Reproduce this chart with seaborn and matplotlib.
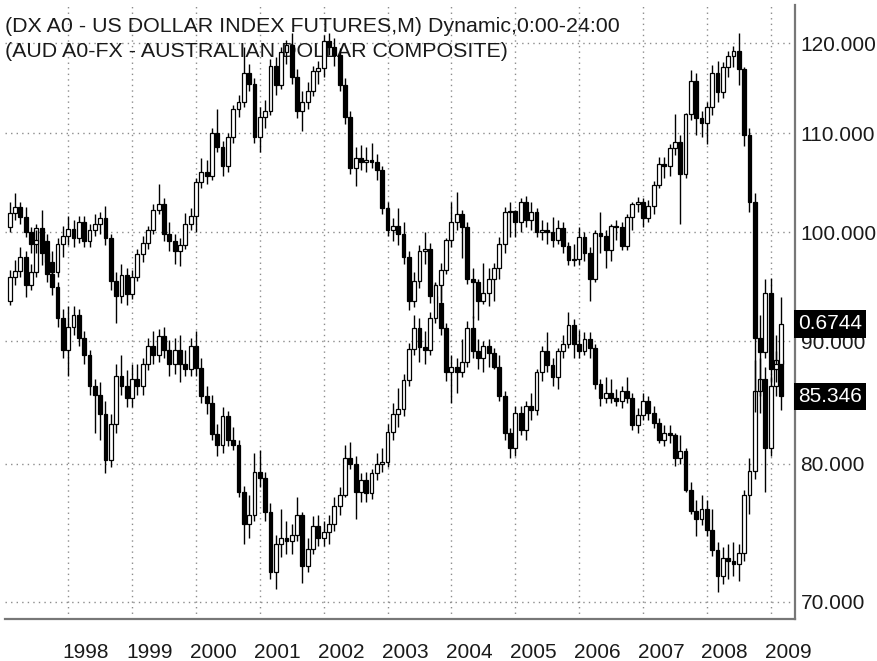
import matplotlib
matplotlib.use("Agg")
import matplotlib.pyplot as plt
import matplotlib.transforms as mtransforms
from matplotlib.ticker import FixedLocator, FixedFormatter, FormatStrFormatter, NullLocator, NullFormatter
import numpy as np
import pandas as pd
import seaborn as sns

# monthly bars, Feb 1997 .. Mar 2009
start_month = "1997-02-01"

# US Dollar Index futures (DX A0)
dx_open = [
    93.6, 95.8, 96.3, 97.6, 95.0, 96.2, 100.4, 99.2, 97.2, 96.2, 98.9,
    99.6, 100.3, 99.4, 101.0, 99.2, 100.2, 100.8, 101.4, 99.4, 95.4, 94.0, 96.0,
    94.2, 95.8, 97.9, 99.0, 100.2, 102.2, 102.8, 99.8, 99.2, 98.2, 98.8, 100.8,
    101.6, 105.0, 106.0, 105.6, 110.0, 108.6, 106.6, 109.6, 112.6, 113.4, 116.6, 115.4,
    109.6, 111.8, 112.4, 117.4, 115.2, 119.0, 119.8, 116.2, 112.4, 113.4, 114.6, 116.8,
    117.2, 120.2, 119.6, 118.6, 115.2, 111.8, 106.4, 107.4, 107.0, 107.2, 107.0, 106.2,
    102.4, 100.2, 100.6, 99.8, 97.6, 93.6, 95.4, 98.2, 98.4, 94.0, 93.4, 91.2,
    87.4, 87.8, 87.4, 88.2, 91.2, 89.2, 88.6, 89.6, 89.0, 87.8, 85.4, 82.4,
    81.2, 84.0, 82.6, 84.6, 84.2, 87.4, 89.2, 88.0, 87.0, 89.2, 89.8, 91.4,
    89.8, 89.2, 90.2, 89.4, 86.4, 85.2, 85.6, 85.2, 85.0, 85.8, 85.2, 83.0,
    83.8, 85.0, 84.0, 83.2, 81.8, 82.4, 82.2, 80.4, 81.0, 78.0, 76.4, 75.8,
    76.6, 75.0, 73.6, 71.8, 73.0, 72.8, 72.6, 73.4, 77.6, 79.4, 85.8, 86.8,
    81.2, 86.2, 88.4,
]
dx_high = [
    96.4, 97.4, 98.6, 98.2, 97.0, 100.8, 102.2, 99.8, 98.2, 99.4, 100.6,
    101.6, 101.2, 101.6, 101.6, 100.8, 101.8, 102.0, 102.6, 99.8, 96.2, 97.0, 96.6,
    96.4, 98.4, 99.6, 100.6, 102.8, 104.8, 103.4, 101.0, 99.8, 99.4, 101.9, 102.4,
    105.4, 107.4, 107.2, 110.6, 112.6, 109.2, 110.0, 113.0, 114.2, 119.6, 117.6, 116.0,
    112.8, 113.6, 118.2, 118.4, 119.6, 120.4, 121.2, 117.0, 114.6, 115.6, 117.4, 118.0,
    121.0, 121.2, 120.6, 119.4, 116.0, 112.4, 108.6, 108.8, 108.6, 109.0, 107.8, 106.6,
    103.0, 101.4, 102.4, 101.0, 98.2, 96.2, 98.8, 100.0, 99.0, 95.2, 95.0, 91.6,
    88.8, 88.6, 90.2, 91.8, 92.2, 90.2, 90.0, 90.2, 89.4, 88.8, 85.8, 82.8,
    84.6, 84.6, 85.0, 85.6, 87.6, 89.6, 90.8, 88.6, 89.4, 90.6, 92.6, 92.0,
    91.0, 90.8, 90.8, 89.8, 86.8, 87.0, 86.8, 86.0, 86.2, 87.0, 85.6, 84.4,
    85.6, 85.4, 84.6, 83.6, 83.0, 83.0, 82.4, 82.2, 81.2, 78.6, 77.2, 77.6,
    77.2, 76.6, 74.2, 73.8, 74.0, 74.2, 74.0, 78.0, 80.4, 88.4, 88.6, 87.8,
    87.0, 89.2, 89.6,
]
dx_low = [
    93.2, 95.0, 95.8, 93.9, 94.6, 95.8, 98.8, 96.4, 95.2, 95.8, 97.6,
    98.8, 98.6, 99.0, 98.6, 98.6, 99.6, 99.8, 98.8, 94.6, 91.6, 93.4, 93.2,
    93.8, 95.4, 97.2, 98.4, 99.8, 101.8, 99.2, 98.2, 97.0, 96.8, 98.4, 100.2,
    100.0, 104.4, 104.8, 105.2, 108.0, 105.6, 106.0, 109.0, 111.8, 112.8, 114.6, 109.0,
    108.0, 110.6, 112.0, 114.2, 114.8, 117.6, 115.4, 111.6, 110.2, 112.6, 114.0, 115.4,
    116.2, 118.6, 117.4, 114.6, 111.0, 105.8, 104.6, 106.2, 106.0, 106.4, 105.2, 101.8,
    99.6, 99.2, 98.8, 97.0, 92.8, 93.0, 94.8, 97.0, 93.4, 92.8, 90.6, 86.6,
    84.8, 85.6, 87.0, 87.8, 88.6, 87.6, 87.4, 87.8, 87.6, 85.0, 81.8, 80.4,
    80.6, 82.2, 81.8, 83.4, 83.8, 86.6, 87.4, 86.2, 86.0, 88.6, 89.4, 88.6,
    88.6, 88.8, 88.6, 86.0, 84.6, 84.8, 84.8, 84.6, 84.4, 84.8, 82.6, 82.4,
    83.4, 83.4, 82.8, 81.6, 81.4, 81.6, 79.8, 80.0, 77.8, 76.2, 74.6, 75.4,
    74.6, 73.2, 70.7, 71.2, 71.6, 71.8, 71.4, 72.8, 76.2, 78.8, 84.0, 77.8,
    80.6, 85.4, 84.2,
]
dx_close = [
    95.8, 96.3, 97.6, 95.0, 96.2, 100.4, 99.2, 97.2, 96.2, 98.9, 99.6,
    100.3, 99.4, 101.0, 99.2, 100.2, 100.8, 101.4, 99.4, 95.4, 94.0, 96.0, 94.2,
    95.8, 97.9, 99.0, 100.2, 102.2, 102.8, 99.8, 99.2, 98.2, 98.8, 100.8, 101.6,
    105.0, 106.0, 105.6, 110.0, 108.6, 106.6, 109.6, 112.6, 113.4, 116.6, 115.4, 109.6,
    111.8, 112.4, 117.4, 115.2, 119.0, 119.8, 116.2, 112.4, 113.4, 114.6, 116.8, 117.2,
    120.2, 119.6, 118.6, 115.2, 111.8, 106.4, 107.4, 107.0, 107.2, 107.0, 106.2, 102.4,
    100.2, 100.6, 99.8, 97.6, 93.6, 95.4, 98.2, 98.4, 94.0, 93.4, 91.2, 87.4,
    87.8, 87.4, 88.2, 91.2, 89.2, 88.6, 89.6, 89.0, 87.8, 85.4, 82.4, 81.2,
    84.0, 82.6, 84.6, 84.2, 87.4, 89.2, 88.0, 87.0, 89.2, 89.8, 91.4, 89.8,
    89.2, 90.2, 89.4, 86.4, 85.2, 85.6, 85.2, 85.0, 85.8, 85.2, 83.0, 83.8,
    85.0, 84.0, 83.2, 81.8, 82.4, 82.2, 80.4, 81.0, 78.0, 76.4, 75.8, 76.6,
    75.0, 73.6, 71.8, 73.0, 72.8, 72.6, 73.4, 77.6, 79.4, 85.8, 86.8, 81.2,
    86.2, 88.4, 85.346,
]

# Australian dollar composite (AUD A0-FX)
aud_open = [
    0.765, 0.779, 0.785, 0.775, 0.760, 0.748, 0.752, 0.740, 0.720, 0.708, 0.680,
    0.652, 0.672, 0.682, 0.662, 0.648, 0.622, 0.615, 0.600, 0.565, 0.592, 0.630, 0.622,
    0.612, 0.628, 0.622, 0.640, 0.655, 0.648, 0.664, 0.652, 0.640, 0.652, 0.640, 0.636,
    0.655, 0.637, 0.614, 0.608, 0.584, 0.576, 0.598, 0.580, 0.576, 0.542, 0.520, 0.526,
    0.556, 0.552, 0.528, 0.488, 0.506, 0.510, 0.508, 0.512, 0.526, 0.492, 0.503, 0.518,
    0.510, 0.514, 0.520, 0.532, 0.540, 0.566, 0.562, 0.542, 0.550, 0.541, 0.555, 0.562,
    0.563, 0.586, 0.600, 0.604, 0.627, 0.653, 0.671, 0.654, 0.652, 0.680, 0.709, 0.723,
    0.752, 0.770, 0.778, 0.765, 0.715, 0.712, 0.695, 0.702, 0.715, 0.725, 0.748, 0.780,
    0.781, 0.770, 0.790, 0.772, 0.780, 0.760, 0.762, 0.760, 0.752, 0.764, 0.746, 0.733,
    0.734, 0.755, 0.740, 0.715, 0.759, 0.756, 0.742, 0.766, 0.765, 0.746, 0.775, 0.788,
    0.790, 0.774, 0.786, 0.808, 0.830, 0.828, 0.848, 0.855, 0.820, 0.886, 0.925, 0.882,
    0.876, 0.894, 0.935, 0.912, 0.942, 0.956, 0.962, 0.940, 0.862, 0.790, 0.662, 0.650,
    0.702, 0.636, 0.640,
]
aud_high = [
    0.790, 0.800, 0.790, 0.785, 0.765, 0.762, 0.758, 0.745, 0.730, 0.712, 0.688,
    0.690, 0.690, 0.688, 0.668, 0.652, 0.628, 0.625, 0.610, 0.600, 0.640, 0.648, 0.635,
    0.640, 0.640, 0.645, 0.662, 0.668, 0.670, 0.672, 0.660, 0.662, 0.665, 0.652, 0.662,
    0.668, 0.645, 0.622, 0.615, 0.592, 0.605, 0.602, 0.590, 0.580, 0.546, 0.540, 0.570,
    0.572, 0.556, 0.534, 0.512, 0.530, 0.522, 0.520, 0.538, 0.528, 0.510, 0.525, 0.526,
    0.522, 0.526, 0.538, 0.545, 0.576, 0.578, 0.568, 0.555, 0.556, 0.558, 0.570, 0.574,
    0.592, 0.608, 0.620, 0.632, 0.658, 0.682, 0.680, 0.668, 0.685, 0.712, 0.730, 0.754,
    0.790, 0.801, 0.782, 0.770, 0.725, 0.715, 0.730, 0.725, 0.730, 0.755, 0.785, 0.790,
    0.782, 0.795, 0.797, 0.790, 0.784, 0.772, 0.770, 0.775, 0.772, 0.770, 0.750, 0.748,
    0.765, 0.760, 0.745, 0.762, 0.780, 0.762, 0.768, 0.772, 0.770, 0.778, 0.790, 0.796,
    0.794, 0.792, 0.812, 0.838, 0.838, 0.852, 0.886, 0.862, 0.888, 0.938, 0.935, 0.890,
    0.900, 0.945, 0.950, 0.948, 0.962, 0.968, 0.985, 0.942, 0.870, 0.800, 0.682, 0.715,
    0.716, 0.665, 0.698,
]
aud_low = [
    0.760, 0.772, 0.768, 0.755, 0.740, 0.740, 0.728, 0.712, 0.700, 0.672, 0.645,
    0.630, 0.665, 0.655, 0.640, 0.615, 0.585, 0.580, 0.555, 0.560, 0.585, 0.615, 0.605,
    0.605, 0.615, 0.615, 0.635, 0.640, 0.642, 0.645, 0.630, 0.632, 0.625, 0.630, 0.630,
    0.630, 0.608, 0.600, 0.580, 0.568, 0.570, 0.575, 0.572, 0.538, 0.506, 0.510, 0.522,
    0.545, 0.522, 0.484, 0.4775, 0.498, 0.500, 0.500, 0.508, 0.481, 0.488, 0.500, 0.505,
    0.505, 0.506, 0.515, 0.526, 0.538, 0.558, 0.523, 0.535, 0.535, 0.537, 0.550, 0.556,
    0.560, 0.580, 0.590, 0.598, 0.622, 0.648, 0.642, 0.640, 0.648, 0.675, 0.695, 0.720,
    0.745, 0.762, 0.735, 0.710, 0.680, 0.678, 0.692, 0.690, 0.695, 0.715, 0.740, 0.755,
    0.755, 0.760, 0.765, 0.762, 0.755, 0.752, 0.748, 0.745, 0.748, 0.740, 0.728, 0.727,
    0.728, 0.732, 0.695, 0.712, 0.740, 0.725, 0.732, 0.752, 0.742, 0.742, 0.762, 0.780,
    0.765, 0.770, 0.778, 0.805, 0.815, 0.818, 0.840, 0.768, 0.815, 0.880, 0.862, 0.860,
    0.852, 0.885, 0.900, 0.905, 0.930, 0.942, 0.920, 0.850, 0.780, 0.601, 0.614, 0.645,
    0.625, 0.625, 0.625,
]
aud_close = [
    0.779, 0.785, 0.775, 0.760, 0.748, 0.752, 0.740, 0.720, 0.708, 0.680, 0.652,
    0.672, 0.682, 0.662, 0.648, 0.622, 0.615, 0.600, 0.565, 0.592, 0.630, 0.622, 0.612,
    0.628, 0.622, 0.640, 0.655, 0.648, 0.664, 0.652, 0.640, 0.652, 0.640, 0.636, 0.655,
    0.637, 0.614, 0.608, 0.584, 0.576, 0.598, 0.580, 0.576, 0.542, 0.520, 0.526, 0.556,
    0.552, 0.528, 0.488, 0.506, 0.510, 0.508, 0.512, 0.526, 0.492, 0.503, 0.518, 0.510,
    0.514, 0.520, 0.532, 0.540, 0.566, 0.562, 0.542, 0.550, 0.541, 0.555, 0.562, 0.563,
    0.586, 0.600, 0.604, 0.627, 0.653, 0.671, 0.654, 0.652, 0.680, 0.709, 0.723, 0.752,
    0.770, 0.778, 0.765, 0.715, 0.712, 0.695, 0.702, 0.715, 0.725, 0.748, 0.780, 0.781,
    0.770, 0.790, 0.772, 0.780, 0.760, 0.762, 0.760, 0.752, 0.764, 0.746, 0.733, 0.734,
    0.755, 0.740, 0.715, 0.759, 0.756, 0.742, 0.766, 0.765, 0.746, 0.775, 0.788, 0.790,
    0.774, 0.786, 0.808, 0.830, 0.828, 0.848, 0.855, 0.820, 0.886, 0.925, 0.882, 0.876,
    0.894, 0.935, 0.912, 0.942, 0.956, 0.962, 0.940, 0.862, 0.790, 0.662, 0.650, 0.702,
    0.636, 0.640, 0.6744,
]

dx_ticks = [70, 80, 90, 100, 110, 120]
years = list(range(1998, 2010))
title_lines = [
    "(DX A0 - US DOLLAR INDEX FUTURES,M) Dynamic,0:00-24:00",
    "(AUD A0-FX - AUSTRALIAN DOLLAR COMPOSITE)",
]

months = pd.date_range(start_month, periods=len(dx_close), freq="MS")
xpos = np.asarray(months.year + (months.month - 1) / 12.0)

sns.set_style("white")
plt.rcParams["font.family"] = ["Liberation Sans", "DejaVu Sans"]

fig = plt.figure(figsize=(8.78, 6.61), dpi=100)
ax = fig.add_axes([5 / 878, 1 - 619 / 661, 790 / 878, 614 / 661])
ax2 = ax.twinx()


def candles(a, x, o, h, l, c):
    o, h, l, c = (np.asarray(v, dtype=float) for v in (o, h, l, c))
    up = c >= o
    a.vlines(x, l, h, color="black", lw=1.0, zorder=3)
    a.bar(x[up], c[up] - o[up], bottom=o[up], width=0.06, color="white",
          edgecolor="black", lw=0.9, zorder=4)
    a.bar(x[~up], o[~up] - c[~up], bottom=c[~up], width=0.06, color="black",
          edgecolor="black", lw=0.9, zorder=4)


candles(ax, xpos, dx_open, dx_high, dx_low, dx_close)
candles(ax2, xpos, aud_open, aud_high, aud_low, aud_close)

ax.set_yscale("log")
ax.set_ylim(68.86, 124.5)
ax2.set_yscale("log")
ax2.set_ylim(0.4592, 1.0215)
ax.set_xlim(1997.01, 2009.38)

ax.yaxis.tick_right()
ax.yaxis.set_major_locator(FixedLocator(dx_ticks))
ax.yaxis.set_major_formatter(FormatStrFormatter("%.3f"))
ax.yaxis.set_minor_locator(NullLocator())
ax.yaxis.set_minor_formatter(NullFormatter())
ax.tick_params(axis="y", which="major", right=True, left=False, length=3, width=1,
               color="#777777", pad=1, labelsize=15, labelcolor="#1a1a1a")

ax.xaxis.set_major_locator(FixedLocator(years))
ax.xaxis.set_major_formatter(NullFormatter())
ax.xaxis.set_minor_locator(FixedLocator([y + 0.28 for y in years]))
ax.xaxis.set_minor_formatter(FixedFormatter([str(y) for y in years]))
ax.tick_params(axis="x", which="major", length=3, width=1, color="#777777")
ax.tick_params(axis="x", which="minor", length=0, pad=17, labelsize=15, labelcolor="#1a1a1a")

ax2.set_yticks([])
ax2.yaxis.set_minor_locator(NullLocator())
for s in ax2.spines.values():
    s.set_visible(False)

sns.despine(ax=ax, left=True, right=False, top=True, bottom=False)
for side in ("right", "bottom"):
    ax.spines[side].set_color("#777777")
    ax.spines[side].set_linewidth(1.6)

ax.grid(True, which="major", color="#8c8c8c", linestyle=(0, (1, 3)), linewidth=1.0)
ax.set_axisbelow(True)

ax.text(0.0, (619 - 32) / 614, title_lines[0], transform=ax.transAxes, fontsize=15.4,
        color="#1a1a1a", va="baseline", ha="left", zorder=1)
ax.text(0.0, (619 - 57) / 614, title_lines[1], transform=ax.transAxes, fontsize=15.4,
        color="#1a1a1a", va="baseline", ha="left", zorder=1)

shift = mtransforms.ScaledTranslation(3 / 100, 0, fig.dpi_scale_trans)
box = dict(boxstyle="square,pad=0.2", fc="black", ec="none")
ax2.text(1.0, aud_close[-1], f"{aud_close[-1]:.4f}",
         transform=mtransforms.blended_transform_factory(ax2.transAxes, ax2.transData) + shift,
         fontsize=15, color="white", va="center", ha="left", bbox=box, clip_on=False, zorder=10)
ax2.text(1.0, dx_close[-1], f"{dx_close[-1]:.3f}",
         transform=mtransforms.blended_transform_factory(ax.transAxes, ax.transData) + shift,
         fontsize=15, color="white", va="center", ha="left", bbox=box, clip_on=False, zorder=10)

fig.savefig("out.png", dpi=100, facecolor="white")
